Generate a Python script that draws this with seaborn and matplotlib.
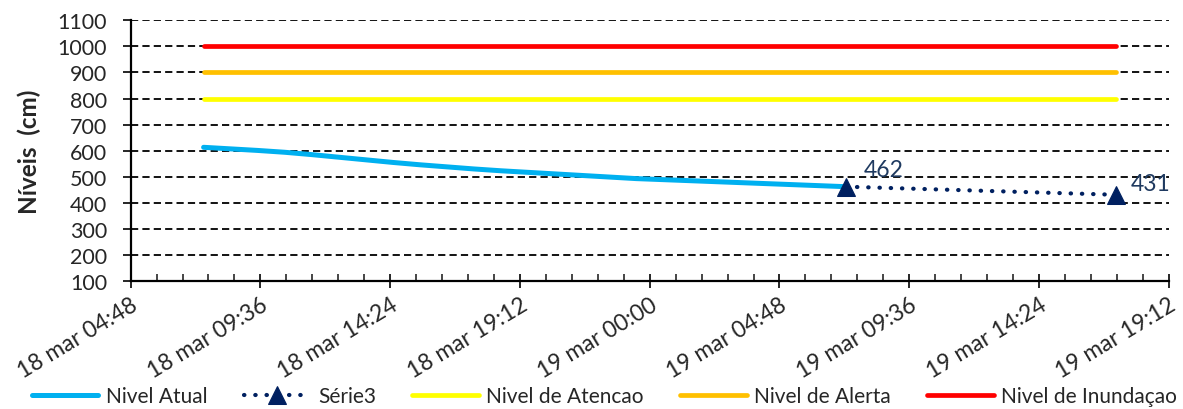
import pandas as pd
import matplotlib
matplotlib.use("Agg")
import matplotlib.pyplot as plt
import matplotlib.dates as mdates
from matplotlib.ticker import FuncFormatter, MultipleLocator
import seaborn as sns

# leituras do nivel (cm)
atual_horas = ["2024-03-18 07:30", "2024-03-18 08:30", "2024-03-18 09:30", "2024-03-18 10:30",
               "2024-03-18 11:30", "2024-03-18 12:30", "2024-03-18 13:30", "2024-03-18 14:30",
               "2024-03-18 15:30", "2024-03-18 16:30", "2024-03-18 17:30", "2024-03-18 18:30",
               "2024-03-18 19:30", "2024-03-18 20:30", "2024-03-18 21:30", "2024-03-18 22:30",
               "2024-03-18 23:30", "2024-03-19 00:30", "2024-03-19 01:30", "2024-03-19 02:30",
               "2024-03-19 03:30", "2024-03-19 04:30", "2024-03-19 05:30", "2024-03-19 06:30",
               "2024-03-19 07:15"]
atual_niveis = [613, 607, 601, 594, 585, 575, 565, 555, 546, 538, 530, 523, 517,
                511, 505, 499, 493, 489, 485, 481, 477, 473, 469, 465, 462]

serie3_horas = ["2024-03-19 07:15", "2024-03-19 17:15"]
serie3_niveis = [462, 431]

cotas_horas = ["2024-03-18 07:30", "2024-03-19 17:15"]
cota_atencao = [800, 800]
cota_alerta = [900, 900]
cota_inundacao = [1000, 1000]

x_ini = pd.Timestamp("2024-03-18 04:48")
x_fim = pd.Timestamp("2024-03-19 19:12")

sns.set_style("white")
plt.rcParams["font.family"] = ["Lato", "DejaVu Sans"]

fig = plt.figure(figsize=(11.83, 4.10), dpi=100)
ax = fig.add_axes([0.1104, 0.312, 0.988 - 0.1104, 0.948 - 0.312])

df_atual = pd.DataFrame({"hora": pd.to_datetime(atual_horas), "nivel": atual_niveis})
df_s3 = pd.DataFrame({"hora": pd.to_datetime(serie3_horas), "nivel": serie3_niveis})
t_cota = pd.to_datetime(cotas_horas)

sns.lineplot(data=df_atual, x="hora", y="nivel", ax=ax, color="#00B0F0", lw=3.6,
             label="Nivel Atual", solid_capstyle="round")
sns.lineplot(data=df_s3, x="hora", y="nivel", ax=ax, color="#002060", lw=3,
             linestyle=(0, (0.1, 2.6)), dash_capstyle="round", marker="^",
             markersize=13, markeredgecolor="#002060", label="Série3")
sns.lineplot(x=t_cota, y=cota_atencao, ax=ax, color="#FFFF00", lw=3.4,
             label="Nivel de Atencao", solid_capstyle="round")
sns.lineplot(x=t_cota, y=cota_alerta, ax=ax, color="#FFC000", lw=3.4,
             label="Nivel de Alerta", solid_capstyle="round")
sns.lineplot(x=t_cota, y=cota_inundacao, ax=ax, color="#FF0000", lw=3.4,
             label="Nivel de Inundaçao", solid_capstyle="round")

for t, v in zip(df_s3["hora"], df_s3["nivel"]):
    off = (38, 17) if v == serie3_niveis[0] else (35, 11)
    ax.annotate(str(v), (t, v), xytext=off, textcoords="offset pixels",
                ha="center", va="center", fontsize=16.5, color="#1F3A60")

ax.set_ylim(100, 1100)
ax.yaxis.set_major_locator(MultipleLocator(100))
ax.set_xlim(x_ini, x_fim)
ax.set_xticks(pd.date_range(x_ini, x_fim, freq="288min"))
ax.set_xticks(pd.date_range(x_ini, x_fim, freq="3456s"), minor=True)
ax.xaxis.set_major_formatter(FuncFormatter(
    lambda v, p: f"{mdates.num2date(v).day} mar {mdates.num2date(v):%H:%M}"))

ax.grid(axis="y", color="black", linestyle=(0, (4, 2.3)), lw=1.3)
ax.set_axisbelow(True)
for s in ["top", "right"]:
    ax.spines[s].set_visible(False)
for s in ["left", "bottom"]:
    ax.spines[s].set_color("black")
    ax.spines[s].set_linewidth(1.6)

ax.tick_params(axis="y", which="major", direction="out", length=6, width=1.4,
               labelsize=15.5, pad=11, left=True)
ax.tick_params(axis="x", which="major", direction="inout", length=10, width=1.4,
               labelsize=16.5, pad=4, bottom=True)
ax.tick_params(axis="x", which="minor", direction="in", length=5, width=1.2, bottom=True)
for lab in ax.get_xticklabels():
    lab.set_rotation(31)
    lab.set_ha("right")
    lab.set_va("top")
    lab.set_rotation_mode("anchor")

ax.set_xlabel("")
ax.set_ylabel("Níveis  (cm)", fontsize=17.5, fontweight="bold", labelpad=12)

ax.legend(loc="center", bbox_to_anchor=(0.511, 0.032), bbox_transform=fig.transFigure,
          ncol=5, frameon=False, fontsize=15, handlelength=3.2, handletextpad=0.35,
          columnspacing=1.75)

fig.savefig("out.png", dpi=100)
